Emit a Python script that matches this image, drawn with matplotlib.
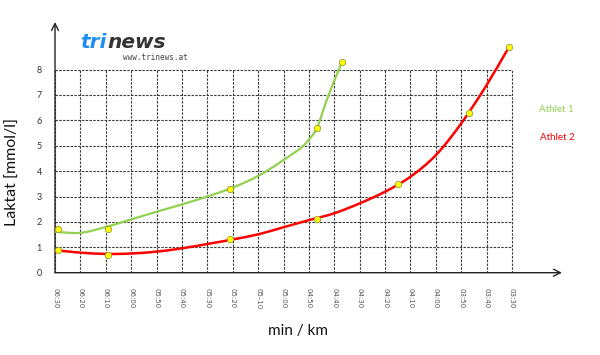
import matplotlib
matplotlib.use("Agg")
import matplotlib.pyplot as plt
from matplotlib.path import Path
from matplotlib.patches import PathPatch
import numpy as np

# ---- data ----
tick_pace = [390, 380, 370, 360, 350, 340, 330, 320, 310, 300,
             290, 280, 270, 260, 250, 240, 230, 220, 210]
tick_labels = ["06:30", "06:20", "06:10", "06:00", "05:50", "05:40", "05:30",
               "05:20", "05\u201310", "05:00", "04:50", "04:40", "04:30",
               "04:20", "04:10", "04:00", "03:50", "03:40", "03:30"]
y_ticks = [0, 1, 2, 3, 4, 5, 6, 7, 8]

# measured points (pace in seconds / km, lactate mmol/l)
a1_pace = [389, 369, 321, 287, 277]
a1_lact = [1.71, 1.71, 3.30, 5.70, 8.28]
a2_pace = [389, 369, 321, 287, 255, 227, 211]
a2_lact = [0.89, 0.70, 1.31, 2.10, 3.50, 6.30, 8.90]

# smoothed curves
a1_curve_pace = [390, 380, 370, 360, 350, 340, 330, 320, 310, 300, 290, 287, 283, 277]
a1_curve_lact = [1.61, 1.57, 1.80, 2.10, 2.40, 2.69, 3.00, 3.35, 3.81, 4.44, 5.24, 5.66, 6.80, 8.28]
a2_curve_pace = [390, 380, 370, 350, 340, 330, 320, 310, 300, 290, 280, 270,
                 260, 250, 240, 230, 220, 211]
a2_curve_lact = [0.89, 0.79, 0.74, 0.83, 0.96, 1.13, 1.31, 1.51, 1.79, 2.07, 2.34,
                 2.73, 3.19, 3.78, 4.63, 5.88, 7.39, 8.92]

series_names = ["Athlet 1", "Athlet 2"]
green = "#92d050"
red = "#ff0000"

plt.rcParams['font.family'] = ['Lato', 'DejaVu Sans']

W, H = 600, 355
fig = plt.figure(figsize=(W / 100, H / 100), dpi=100)
x0, x1 = 55, 562
y0, y1 = 272.7, 22
ax = fig.add_axes([x0 / W, (H - y0) / H, (x1 - x0) / W, (y0 - y1) / H])
px_per = (512 - 55) / 18.0
xmax_idx = (x1 - x0) / px_per
ax.set_xlim(390, 390 - 10 * xmax_idx)
ax.set_ylim(0, (y0 - y1) / px_per)
for s in ax.spines.values():
    s.set_visible(False)

# grid
gcol = "#3a3a3a"
ax.vlines(tick_pace, 0, 8, colors=gcol, linewidth=0.8, linestyles=(0, (2.2, 1.2)), zorder=1)
ax.hlines(y_ticks[1:], tick_pace[0], tick_pace[-1], colors=gcol, linewidth=0.8,
          linestyles=(0, (2.2, 1.2)), zorder=1)

# axes arrows
xl = ax.get_xlim()
yl = ax.get_ylim()
ax.annotate("", xy=(xl[1], 0), xytext=(xl[0], 0),
            arrowprops=dict(arrowstyle="->,head_length=0.5,head_width=0.25", color="#222", lw=1.0,
                            shrinkA=0, shrinkB=0), annotation_clip=False)
ax.annotate("", xy=(xl[0], yl[1]), xytext=(xl[0], 0),
            arrowprops=dict(arrowstyle="->,head_length=0.5,head_width=0.25", color="#222", lw=1.0,
                            shrinkA=0, shrinkB=0), annotation_clip=False)


def smooth_path(xs, ys):
    """Hermite spline (as cubic Bezier) parameterised by x, with non-uniform tangents."""
    x = np.asarray(xs, float)
    y = np.asarray(ys, float)
    n = len(x)
    h = np.diff(x)
    d = np.diff(y) / h
    m = np.empty(n)
    m[0] = d[0]
    m[-1] = d[-1]
    for i in range(1, n - 1):
        m[i] = (d[i] * h[i - 1] + d[i - 1] * h[i]) / (h[i - 1] + h[i])
    verts = [(x[0], y[0])]
    codes = [Path.MOVETO]
    for i in range(n - 1):
        verts += [(x[i] + h[i] / 3, y[i] + m[i] * h[i] / 3),
                  (x[i + 1] - h[i] / 3, y[i + 1] - m[i + 1] * h[i] / 3),
                  (x[i + 1], y[i + 1])]
        codes += [Path.CURVE4] * 3
    return Path(verts, codes)


ax.add_patch(PathPatch(smooth_path(a1_curve_pace, a1_curve_lact), fill=False,
                       edgecolor=green, lw=1.6, zorder=3, capstyle='round'))
ax.add_patch(PathPatch(smooth_path(a2_curve_pace, a2_curve_lact), fill=False,
                       edgecolor=red, lw=1.8, zorder=3, capstyle='round'))

ax.plot(a1_pace, a1_lact, linestyle='none', marker='o', markersize=4.6,
        markerfacecolor="#ffff00", markeredgecolor="#9a9a3a", markeredgewidth=0.6, zorder=4,
        clip_on=False)
ax.plot(a2_pace, a2_lact, linestyle='none', marker='o', markersize=4.6,
        markerfacecolor="#ffff00", markeredgecolor="#9a9a3a", markeredgewidth=0.6, zorder=4,
        clip_on=False)

# ticks
ax.set_yticks(y_ticks)
ax.set_yticklabels([str(v) for v in y_ticks], fontsize=6.5, color="#333")
ax.set_xticks(tick_pace)
ax.set_xticklabels(tick_labels, rotation=-90, fontsize=5, color="#555",
                   ha='center', va='top', family=['DejaVu Sans'])
ax.tick_params(axis='y', length=0, pad=9.5)
ax.tick_params(axis='x', length=0, pad=11)

# axis labels
fig.text(298 / W, 1 - 331 / H, "min / km", fontsize=11, ha='center', va='center', color="#111")
fig.text(13 / W, 1 - 172 / H, "Laktat [mmol/l]", fontsize=11.5, ha='center', va='center',
         rotation=90, color="#111")

# legend labels
fig.text(539 / W, 1 - 110 / H, series_names[0], fontsize=7, color=green, ha='left', va='center')
fig.text(540 / W, 1 - 137.5 / H, series_names[1], fontsize=7, color=red, ha='left', va='center')

# logo
fig.text(80 / W, 1 - 48.5 / H, "tri", fontsize=14.5, fontstyle='italic', fontweight='bold',
         color="#1e8ef0", ha='left', va='baseline', family=['DejaVu Sans'])
fig.text(107 / W, 1 - 48.5 / H, "news", fontsize=14.5, fontstyle='italic', fontweight='bold',
         color="#333333", ha='left', va='baseline', family=['DejaVu Sans'])
fig.text(188 / W, 1 - 58 / H, "www.trinews.at", fontsize=5.5,
         color="#444", ha='right', va='center', family=['DejaVu Sans Mono'])

fig.savefig("out.png", dpi=100, facecolor="white")
